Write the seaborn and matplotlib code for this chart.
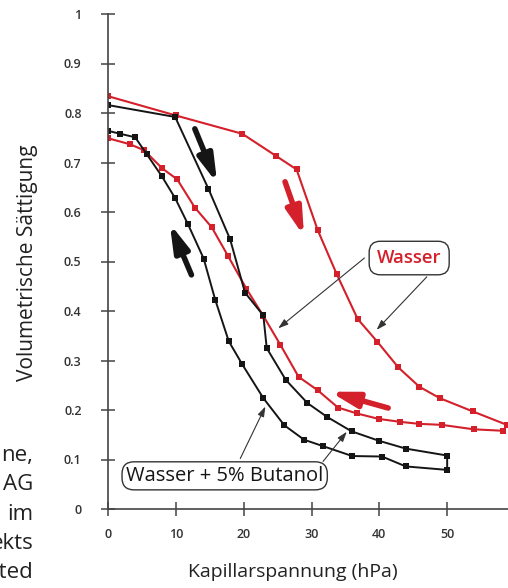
import matplotlib
matplotlib.use("Agg")
import matplotlib.pyplot as plt
import seaborn as sns

# Wasser: Entwässerung (drainage) then Bewässerung (imbibition)
wasser_drain_x = [0, 10, 19.8, 24.8, 27.8, 30.9, 33.7, 36.8, 39.7, 42.8, 45.9, 48.9, 53.8, 58.8]
wasser_drain_y = [0.834, 0.795, 0.758, 0.713, 0.686, 0.564, 0.475, 0.384, 0.338, 0.286, 0.247, 0.224, 0.197, 0.170]
wasser_imb_x = [58.3, 53.9, 49.2, 45.9, 43.1, 39.9, 36.7, 33.9, 30.9, 28.1, 25.4, 22.9, 20.4,
                17.7, 15.3, 12.8, 10.2, 8.0, 5.3, 3.2, 0]
wasser_imb_y = [0.158, 0.161, 0.170, 0.172, 0.176, 0.182, 0.193, 0.205, 0.240, 0.267, 0.332, 0.390, 0.445,
                0.511, 0.569, 0.609, 0.666, 0.688, 0.725, 0.737, 0.749]

# Wasser + 5% Butanol
butanol_drain_x = [0, 9.9, 14.8, 18.0, 20.2, 22.9, 23.4, 26.2, 29.4, 32.3, 35.9, 39.9, 43.9, 50]
butanol_drain_y = [0.816, 0.792, 0.647, 0.545, 0.437, 0.391, 0.325, 0.261, 0.214, 0.186, 0.157, 0.138, 0.122, 0.108]
butanol_imb_x = [50, 43.9, 40.4, 36.0, 31.7, 28.9, 26.0, 22.9, 19.8, 17.8, 15.8, 14.1, 11.8, 9.9,
                 7.9, 5.7, 4.0, 1.8, 0]
butanol_imb_y = [0.079, 0.086, 0.106, 0.107, 0.127, 0.140, 0.169, 0.224, 0.292, 0.339, 0.423, 0.506, 0.575, 0.628,
                 0.673, 0.717, 0.751, 0.758, 0.764]

x_ticks = [0, 10, 20, 30, 40, 50, 60]
y_ticks = [0, 0.1, 0.2, 0.3, 0.4, 0.5, 0.6, 0.7, 0.8, 0.9, 1]
y_tick_labels = ["0", "0.1", "0.2", "0.3", "0.4", "0.5", "0.6", "0.7", "0.8", "0.9", "1"]

side_text = ["ne,", "AG", "im", "ekts", "ited"]

RED = "#d4202a"
BLACK = "#151515"
GREY = "#444444"

sns.set_style("ticks")
plt.rcParams["font.family"] = ["Open Sans", "DejaVu Sans"]

fig = plt.figure(figsize=(5.08, 5.88), dpi=100)
ax = fig.add_axes([108 / 508, 79 / 588, 407 / 508, 495 / 588])

# one continuous path per fluid: drainage out, imbibition back
sns.lineplot(x=wasser_drain_x + wasser_imb_x, y=wasser_drain_y + wasser_imb_y,
             sort=False, estimator=None, color=RED, lw=1.5, marker="s",
             markersize=4, markeredgewidth=0, ax=ax)
sns.lineplot(x=butanol_drain_x + butanol_imb_x, y=butanol_drain_y + butanol_imb_y,
             sort=False, estimator=None, color=BLACK, lw=1.4, marker="s",
             markersize=4.4, markeredgewidth=0, ax=ax)

ax.set_xlim(0, 60)
ax.set_ylim(0, 1)
ax.set_xticks(x_ticks)
ax.set_yticks(y_ticks)
ax.set_yticklabels(y_tick_labels)
ax.tick_params(direction="inout", length=10, width=1.1, color=GREY,
               bottom=True, left=True, labelsize=9, labelcolor="#333333")
ax.tick_params(axis="y", pad=14)
ax.tick_params(axis="x", pad=9)
for lab in ax.get_xticklabels() + ax.get_yticklabels():
    lab.set_fontweight("semibold")
for side in ["top", "right"]:
    ax.spines[side].set_visible(False)
for side in ["left", "bottom"]:
    ax.spines[side].set_color(GREY)
    ax.spines[side].set_linewidth(1.2)
ax.grid(False)

ax.set_xlabel("Kapillarspannung (hPa)", fontsize=14, color="#222222")
ax.set_ylabel("Volumetrische Sättigung", fontsize=15, color="#222222")
ax.xaxis.set_label_coords(0.455, -0.109)
ax.yaxis.set_label_coords(-0.172, 0.497)

# direction arrows
big = dict(arrowstyle="-|>,head_length=1.15,head_width=0.32", lw=4, mutation_scale=14,
           shrinkA=0, shrinkB=0)
ax.annotate("", xy=(16.1, 0.658), xytext=(12.8, 0.768), arrowprops=dict(big, color=BLACK))
ax.annotate("", xy=(9.1, 0.577), xytext=(12.3, 0.473), arrowprops=dict(big, color=BLACK))
ax.annotate("", xy=(28.9, 0.551), xytext=(26.1, 0.661), arrowprops=dict(big, color=RED))
ax.annotate("", xy=(32.7, 0.237), xytext=(41.3, 0.204), arrowprops=dict(big, color=RED))

# labels with leader lines
thin = dict(arrowstyle="-|>,head_length=0.6,head_width=0.2", lw=0.8, color="#333333",
            mutation_scale=10, shrinkA=0, shrinkB=0)
ax.annotate("", xy=(25.1, 0.365), xytext=(37.8, 0.507), arrowprops=thin)
ax.annotate("", xy=(39.6, 0.362), xytext=(47.0, 0.469), arrowprops=thin)
ax.annotate("", xy=(23.2, 0.207), xytext=(19.5, 0.102), arrowprops=thin)
ax.annotate("", xy=(35.2, 0.156), xytext=(31.7, 0.096), arrowprops=thin)

ax.text(44.4, 0.507, "Wasser", color=RED, fontsize=13.3, fontweight="semibold",
        ha="center", va="center", zorder=5,
        bbox=dict(boxstyle="round,pad=0.42,rounding_size=0.6", fc="white", ec="#333333", lw=1))
ax.text(17.2, 0.067, "Wasser + 5% Butanol", color=BLACK, fontsize=14.5,
        ha="center", va="center", zorder=5,
        bbox=dict(boxstyle="round,pad=0.2,rounding_size=0.6", fc="white", ec="#333333", lw=1))

# cut-off text of the surrounding page on the left edge
for i, t in enumerate(side_text):
    fig.text(33 / 508, 1 - (455 + i * 29.5) / 588, t, fontsize=16, color="#222222",
             ha="right", va="center")

fig.savefig("out.png", dpi=100)
